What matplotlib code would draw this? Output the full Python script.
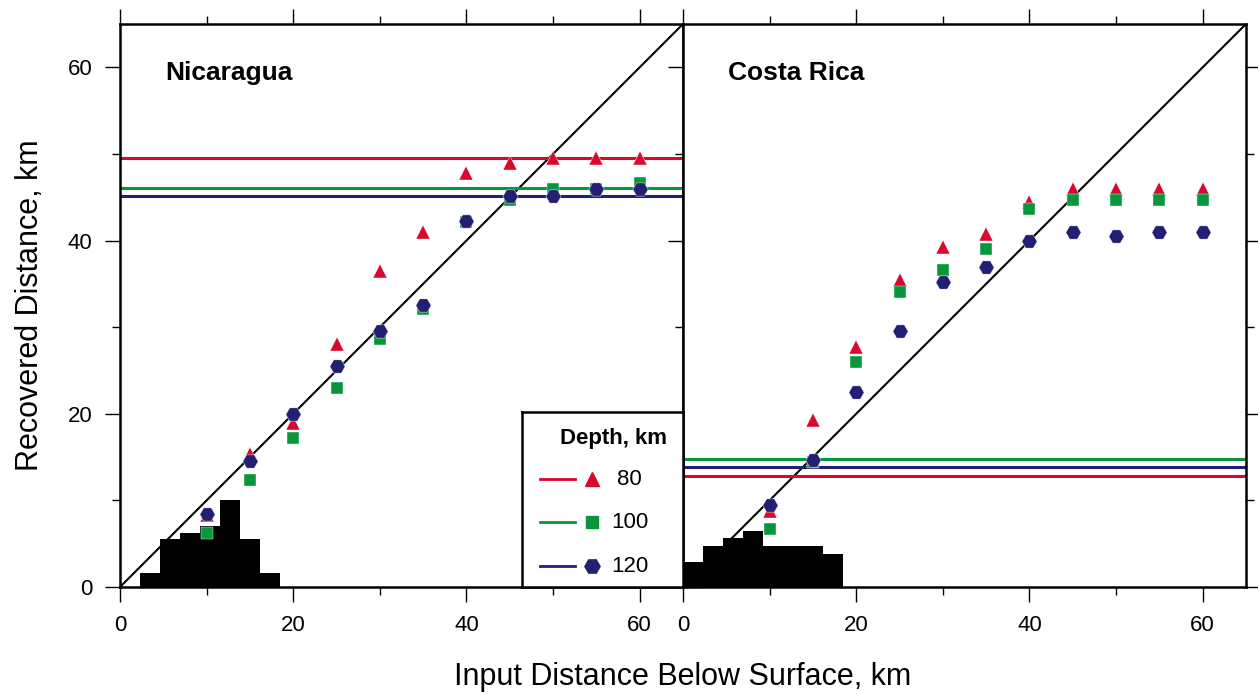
import numpy as np
import matplotlib
matplotlib.use('Agg')
import matplotlib.pyplot as plt
from matplotlib.ticker import MultipleLocator

plt.rcParams['font.family'] = ['Liberation Sans', 'DejaVu Sans']

# input distance below surface (km)
input_x = [10, 15, 20, 25, 30, 35, 40, 45, 50, 55, 60]

# recovered distance, Nicaragua
nic_80 = [8.3, 15.3, 18.9, 28.1, 36.5, 41.0, 47.8, 49.0, 49.5, 49.5, 49.5]
nic_100 = [6.2, 12.3, 17.2, 23.0, 28.6, 32.1, 42.1, 44.7, 45.9, 46.0, 46.7]
nic_120 = [8.4, 14.6, 20.0, 25.5, 29.5, 32.6, 42.3, 45.1, 45.1, 46.0, 46.0]
nic_levels = [49.5, 46.1, 45.1]  # 80, 100, 120

# recovered distance, Costa Rica
cr_80 = [8.8, 19.3, 27.7, 35.5, 39.3, 40.8, 44.5, 45.9, 45.9, 45.9, 45.9]
cr_100 = [6.7, 14.4, 26.0, 34.1, 36.6, 39.0, 43.6, 44.7, 44.7, 44.7, 44.7]
cr_120 = [9.5, 14.7, 22.5, 29.5, 35.2, 37.0, 40.0, 41.0, 40.5, 41.0, 41.0]
cr_levels = [12.8, 14.8, 13.9]

# histograms at the bottom (bin left edges, heights)
bin_w = 2.31
nic_hist_x = [2.31, 4.62, 6.93, 9.24, 11.55, 13.86, 16.17]
nic_hist_h = [1.6, 5.5, 6.2, 7.0, 10.1, 5.5, 1.6]
cr_hist_x = [0.0, 2.31, 4.62, 6.93, 9.24, 11.55, 13.86, 16.17]
cr_hist_h = [2.9, 4.7, 5.6, 6.5, 4.7, 4.7, 4.7, 3.8]

depths = ['80', '100', '120']
colors = ['#d9092e', '#08963a', '#231f72']
markers = ['^', 's', 'H']
msizes = [9.5, 8, 11]

W, H = 1258, 694
fig = plt.figure(figsize=(W / 100, H / 100), dpi=100)

def panel(left, series, levels, hx, hh, name, ylabels):
    ax = fig.add_axes([left / W, 107 / H, 563 / W, 563 / H])
    ax.bar(hx, hh, width=bin_w, align='edge', color='black', zorder=1)
    ax.plot([0, 65], [0, 65], color='black', lw=1.5, zorder=2)
    for lev, c in zip(levels, colors):
        ax.axhline(lev, color=c, lw=2.2, zorder=2)
    for ys, c, m, ms in zip(series, colors, markers, msizes):
        ax.plot(input_x, ys, ls='none', marker=m, ms=ms, color=c, mec='white', mew=0.3, zorder=3)
    ax.set_xlim(0, 65)
    ax.set_ylim(0, 65)
    ax.xaxis.set_major_locator(MultipleLocator(20))
    ax.xaxis.set_minor_locator(MultipleLocator(10))
    ax.yaxis.set_major_locator(MultipleLocator(20))
    ax.yaxis.set_minor_locator(MultipleLocator(10))
    ax.tick_params(which='both', direction='out', top=True, right=True, width=1.0, labelsize=16)
    ax.tick_params(which='major', length=11, pad=9)
    ax.tick_params(which='minor', length=5.5)
    if not ylabels:
        ax.set_yticklabels([])
    for s in ax.spines.values():
        s.set_linewidth(1.8)
        s.set_zorder(5)
    ax.text(5.2, 59.3, name, fontsize=19, fontweight='bold', va='center', ha='left')
    return ax

ax1 = panel(120, [nic_80, nic_100, nic_120], nic_levels, nic_hist_x, nic_hist_h, 'Nicaragua', True)
ax2 = panel(683, [cr_80, cr_100, cr_120], cr_levels, cr_hist_x, cr_hist_h, 'Costa Rica', False)

# legend box
lg = fig.add_axes([522 / W, 107 / H, 161 / W, 175 / H])
lg.set_xlim(0, 1)
lg.set_ylim(0, 1)
lg.set_xticks([])
lg.set_yticks([])
for s in lg.spines.values():
    s.set_linewidth(1.8)
lg.text(0.57, 0.851, 'Depth, km', fontsize=16, fontweight='bold', ha='center', va='center')
for yy, d, c, m, ms in zip([0.617, 0.371, 0.12], depths, colors, markers, msizes):
    lg.plot([0.112, 0.329], [yy, yy], color=c, lw=2)
    lg.plot([0.435], [yy], marker=m, ms=ms, color=c, ls='none')
    lg.text(0.67, yy, d, fontsize=16, ha='center', va='center')

fig.text(683 / W, 1 - 677 / H, 'Input Distance Below Surface, km', fontsize=22, ha='center', va='center')
fig.text(30 / W, 1 - 305 / H, 'Recovered Distance, km', fontsize=22, ha='center', va='center', rotation=90)

fig.savefig('out.png', dpi=100)
